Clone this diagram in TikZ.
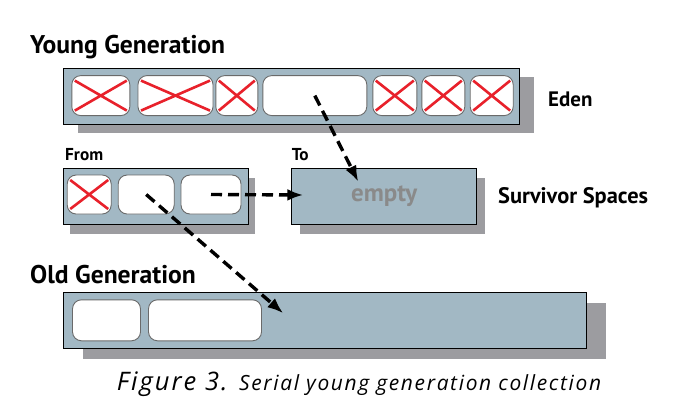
\documentclass[tikz,border=0pt]{standalone}
\usepackage{fontspec}
\setmainfont{PT Sans}
\newfontfamily\captionfont[LetterSpace=8]{Open Sans}
\usetikzlibrary{arrows.meta}
\usetikzlibrary{shadows}

\definecolor{boxblue}{HTML}{A2B8C4}
\definecolor{shadowgray}{HTML}{9C9CA0}
\definecolor{cellgray}{HTML}{6A6A6A}
\definecolor{crossred}{HTML}{E8212B}
\definecolor{emptygray}{HTML}{8A8A8A}

\tikzset{
  genbox/.style={draw=black,line width=1.1bp,fill=boxblue,inner sep=0,outer sep=0},
  cell/.style={draw=cellgray,line width=0.9bp,fill=white,rounded corners=9bp,
    inner sep=0,outer sep=0,minimum height=40bp},
  cross/.style={draw=crossred,line width=2.6bp},
  heading/.style={anchor=base west,inner sep=0,font=\fontsize{25.7}{30}\selectfont\bfseries},
  spacelabel/.style={anchor=base west,inner sep=0,font=\fontsize{21}{25}\selectfont\bfseries},
  smalllabel/.style={anchor=base west,inner sep=0,font=\fontsize{17.3}{20}\selectfont\bfseries},
  move/.style={draw=black,line width=3.4bp,dash pattern=on 11bp off 6bp,
    -{Latex[length=16bp,width=12bp]}},
}

\begin{document}
\begin{tikzpicture}
\useasboundingbox (0bp,0bp) rectangle (691bp,-415bp);
%% boxes
\node (eden) at (291.2bp,-96.2bp) [genbox,minimum width=456bp,minimum height=56bp,
  drop shadow={shadow xshift=15bp,shadow yshift=-8.5bp,fill=shadowgray,opacity=1}] {};
\node (from) at (155.8bp,-196.2bp) [genbox,minimum width=185bp,minimum height=56bp,
  drop shadow={shadow xshift=7bp,shadow yshift=-10bp,fill=shadowgray,opacity=1}] {};
\node (to) at (384.2bp,-196.2bp) [genbox,minimum width=185bp,minimum height=56bp,
  drop shadow={shadow xshift=8bp,shadow yshift=-10bp,fill=shadowgray,opacity=1}]
  {\fontsize{25}{29}\selectfont\bfseries\color{emptygray}empty};
\node (old) at (325bp,-320.5bp) [genbox,minimum width=523bp,minimum height=56bp,
  drop shadow={shadow xshift=19bp,shadow yshift=-10.5bp,fill=shadowgray,opacity=1}] {};
%% cells
\node (eden_1) at (100.8bp,-95.6bp) [cell,minimum width=58bp] {};
\node (eden_2) at (175.5bp,-95.6bp) [cell,minimum width=75bp] {};
\node (eden_3) at (236.8bp,-95.6bp) [cell,minimum width=42bp] {};
\node (eden_4) at (314.8bp,-95.6bp) [cell,minimum width=104bp] {};
\node (eden_5) at (394.8bp,-95.6bp) [cell,minimum width=44bp] {};
\node (eden_6) at (443.3bp,-95.6bp) [cell,minimum width=43bp] {};
\node (eden_7) at (491.7bp,-95.6bp) [cell,minimum width=43bp] {};
\node (from_1) at (89.2bp,-194.5bp) [cell,minimum width=44bp,minimum height=39bp] {};
\node (from_2) at (146.2bp,-194.5bp) [cell,minimum width=56bp,minimum height=39bp] {};
\node (from_3) at (211bp,-194.5bp) [cell,minimum width=60bp,minimum height=39bp] {};
\node (old_1) at (106.5bp,-320.3bp) [cell,minimum width=68bp,minimum height=41bp] {};
\node (old_2) at (205bp,-320.3bp) [cell,minimum width=113bp,minimum height=41bp] {};
%% dead objects
\foreach \c in {eden_1,eden_2,eden_3,eden_5,eden_6,eden_7,from_1}
  \draw [cross] ([xshift=3bp,yshift=-5bp]\c.north west) -- ([xshift=-3bp,yshift=5bp]\c.south east)
    ([xshift=3bp,yshift=5bp]\c.south west) -- ([xshift=-3bp,yshift=-5bp]\c.north east);
%% labels
\node (young_label) at (30bp,-53bp) [heading] {Young Generation};
\node (old_label) at (30bp,-283bp) [heading] {Old Generation};
\node (eden_label) at (548bp,-106.7bp) [spacelabel] {Eden};
\node (survivor_label) at (498bp,-203bp) [spacelabel,font=\fontsize{22.5}{26}\selectfont\bfseries] {Survivor Spaces};
\node (from_label) at (65bp,-160bp) [smalllabel] {From};
\node (to_label) at (291.7bp,-160bp) [smalllabel] {To};
\node (caption) at (116.7bp,-390bp) [anchor=base west,inner sep=0]
  {\captionfont\itshape\fontsize{25.6}{31}\selectfont Figure 3. \fontsize{21}{26}\selectfont Serial young generation collection};
%% copying
\coordinate (to_in) at (358.3bp,-181.7bp);
\coordinate (to_left) at (303.3bp,-195bp);
\coordinate (old_in) at (283.3bp,-313.3bp);
\draw [move] (eden_4.center) -- (to_in);
\draw [move] (from_3.center) -- (to_left);
\draw [move] (from_2.center) -- (old_in);
%
\end{tikzpicture}
\end{document}
